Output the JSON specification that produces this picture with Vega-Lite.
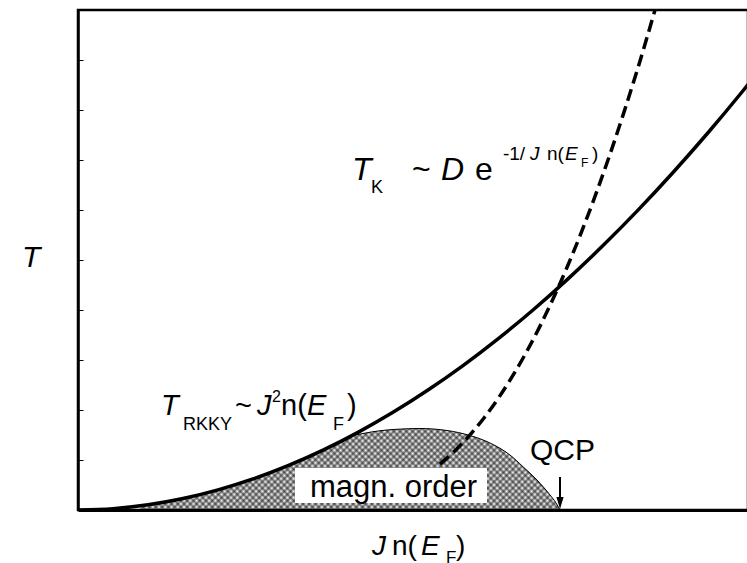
{
  "$schema": "https://vega.github.io/schema/vega-lite/v6.json",
  "autosize": "none",
  "padding": {"left": 78, "top": 10, "right": 0, "bottom": 53},
  "width": 670,
  "height": 500,
  "background": "white",
  "config": {
    "view": {"stroke": "black", "strokeWidth": 2.5},
    "text": {"font": "Liberation Sans", "align": "left", "baseline": "alphabetic", "color": "black"}
  },
  "datasets": {
    "rkky": [
      {"x": 0, "y": 0}, {"x": 0.05, "y": 0.027}, {"x": 0.1, "y": 0.104}, {"x": 0.15, "y": 0.229},
      {"x": 0.2, "y": 0.402}, {"x": 0.25, "y": 0.621}, {"x": 0.3, "y": 0.886}, {"x": 0.35, "y": 1.196},
      {"x": 0.4, "y": 1.552}, {"x": 0.45, "y": 1.953}, {"x": 0.5, "y": 2.399}, {"x": 0.55, "y": 2.888},
      {"x": 0.6, "y": 3.422}, {"x": 0.65, "y": 4.000}, {"x": 0.7, "y": 4.623}, {"x": 0.75, "y": 5.288},
      {"x": 0.8, "y": 5.997}, {"x": 0.85, "y": 6.750}, {"x": 0.9, "y": 7.545}, {"x": 0.95, "y": 8.385},
      {"x": 1.0, "y": 9.267}
    ],
    "kondo": [
      {"x": 0.517, "y": 0.918}, {"x": 0.54, "y": 1.207}, {"x": 0.56, "y": 1.502}, {"x": 0.58, "y": 1.841},
      {"x": 0.6, "y": 2.227}, {"x": 0.62, "y": 2.661}, {"x": 0.64, "y": 3.144}, {"x": 0.66, "y": 3.677},
      {"x": 0.68, "y": 4.263}, {"x": 0.7, "y": 4.899}, {"x": 0.72, "y": 5.587}, {"x": 0.74, "y": 6.326},
      {"x": 0.76, "y": 7.116}, {"x": 0.78, "y": 7.958}, {"x": 0.8, "y": 8.848}, {"x": 0.8243, "y": 10.0}
    ],
    "dome": [
      {"x": 0.0886, "y": 0.082}, {"x": 0.1171, "y": 0.142}, {"x": 0.1457, "y": 0.217}, {"x": 0.1743, "y": 0.307},
      {"x": 0.21, "y": 0.442}, {"x": 0.2457, "y": 0.600}, {"x": 0.2814, "y": 0.782}, {"x": 0.3171, "y": 0.987},
      {"x": 0.3457, "y": 1.168}, {"x": 0.3743, "y": 1.364}, {"x": 0.3886, "y": 1.467}, {"x": 0.4071, "y": 1.53},
      {"x": 0.4314, "y": 1.585}, {"x": 0.4557, "y": 1.615}, {"x": 0.4886, "y": 1.63}, {"x": 0.5271, "y": 1.59},
      {"x": 0.56, "y": 1.49}, {"x": 0.5886, "y": 1.34}, {"x": 0.6171, "y": 1.10}, {"x": 0.6357, "y": 0.866},
      {"x": 0.6557, "y": 0.60}, {"x": 0.6743, "y": 0.30}, {"x": 0.6829, "y": 0.14}, {"x": 0.6886, "y": 0.0}
    ],
    "domeEdge": [
      {"x": 0.3743, "y": 1.364}, {"x": 0.3886, "y": 1.467}, {"x": 0.4071, "y": 1.53}, {"x": 0.4314, "y": 1.585},
      {"x": 0.4557, "y": 1.615}, {"x": 0.4886, "y": 1.63}, {"x": 0.5271, "y": 1.59}, {"x": 0.56, "y": 1.49},
      {"x": 0.5886, "y": 1.34}, {"x": 0.6171, "y": 1.10}, {"x": 0.6357, "y": 0.866}, {"x": 0.6557, "y": 0.60},
      {"x": 0.6743, "y": 0.30}, {"x": 0.6829, "y": 0.14}, {"x": 0.6886, "y": 0.0}
    ],
    "box": [{"x": 0.31, "x2": 0.5843, "y": 0.14, "y2": 0.84}],
    "arrow": [{"x": 0.6886, "y": 0.66, "y2": 0.2}],
    "arrowHead": [{"x": 0.6886, "y": 0.14}],
    "italic": [
      {"x": -0.08, "y": 4.86, "t": "T", "s": 30},
      {"x": 0.1186, "y": 1.90, "t": "T", "s": 29},
      {"x": 0.2557, "y": 1.90, "t": "J", "s": 29},
      {"x": 0.3271, "y": 1.90, "t": "E", "s": 29},
      {"x": 0.3914, "y": 6.60, "t": "T", "s": 32},
      {"x": 0.5186, "y": 6.60, "t": "D", "s": 32},
      {"x": 0.6457, "y": 7.0, "t": "J", "s": 19},
      {"x": 0.6957, "y": 7.0, "t": "E", "s": 19},
      {"x": 0.42, "y": -0.9, "t": "J", "s": 28},
      {"x": 0.49, "y": -0.9, "t": "E", "s": 28}
    ],
    "upright": [
      {"x": 0.15, "y": 1.60, "t": "RKKY", "s": 18},
      {"x": 0.2243, "y": 1.90, "t": "~", "s": 29},
      {"x": 0.2771, "y": 2.16, "t": "2", "s": 16},
      {"x": 0.29, "y": 1.90, "t": "n(", "s": 29},
      {"x": 0.3643, "y": 1.60, "t": "F", "s": 18},
      {"x": 0.3843, "y": 1.90, "t": ")", "s": 29},
      {"x": 0.4186, "y": 6.34, "t": "K", "s": 18},
      {"x": 0.4771, "y": 6.60, "t": "~", "s": 32},
      {"x": 0.5671, "y": 6.60, "t": "e", "s": 32},
      {"x": 0.6071, "y": 7.0, "t": "-1/", "s": 19},
      {"x": 0.67, "y": 7.0, "t": "n(", "s": 19},
      {"x": 0.7186, "y": 6.86, "t": "F", "s": 12},
      {"x": 0.7343, "y": 7.0, "t": ")", "s": 19},
      {"x": 0.4486, "y": -0.9, "t": "n(", "s": 28},
      {"x": 0.5257, "y": -1.06, "t": "F", "s": 17},
      {"x": 0.54, "y": -0.9, "t": ")", "s": 28},
      {"x": 0.6457, "y": 1.0, "t": "QCP", "s": 30},
      {"x": 0.3314, "y": 0.26, "t": "magn. order", "s": 31}
    ]
  },
  "encoding": {
    "x": {
      "field": "x", "type": "quantitative",
      "scale": {"domain": [0, 0.95714], "nice": false, "zero": false},
      "axis": {"title": null, "labels": false, "ticks": false, "grid": false, "domainColor": "black", "domainWidth": 3}
    },
    "y": {
      "field": "y", "type": "quantitative",
      "scale": {"domain": [0, 10], "nice": false, "zero": false},
      "axis": {"title": null, "labels": false, "grid": false, "values": [1, 2, 3, 4, 5, 6, 7, 8, 9], "tickSize": -5, "tickColor": "black", "tickWidth": 1, "domainColor": "black", "domainWidth": 2.5}
    }
  },
  "layer": [
    {"data": {"name": "dome"}, "mark": {"type": "area", "interpolate": "monotone", "clip": true, "fillOpacity": 0.5,
      "fill": {"gradient": "linear", "x1": 0, "y1": 0, "x2": 1.15, "y2": 0.2218, "stops": [
        {"offset":0,"color":"#000"},{"offset":0.00625,"color":"#0000"},{"offset":0.0125,"color":"#000"},{"offset":0.01875,"color":"#0000"},{"offset":0.025,"color":"#000"},{"offset":0.03125,"color":"#0000"},{"offset":0.0375,"color":"#000"},{"offset":0.04375,"color":"#0000"},{"offset":0.05,"color":"#000"},{"offset":0.05625,"color":"#0000"},{"offset":0.0625,"color":"#000"},{"offset":0.06875,"color":"#0000"},{"offset":0.075,"color":"#000"},{"offset":0.08125,"color":"#0000"},{"offset":0.0875,"color":"#000"},{"offset":0.09375,"color":"#0000"},
        {"offset":0.1,"color":"#000"},{"offset":0.10625,"color":"#0000"},{"offset":0.1125,"color":"#000"},{"offset":0.11875,"color":"#0000"},{"offset":0.125,"color":"#000"},{"offset":0.13125,"color":"#0000"},{"offset":0.1375,"color":"#000"},{"offset":0.14375,"color":"#0000"},{"offset":0.15,"color":"#000"},{"offset":0.15625,"color":"#0000"},{"offset":0.1625,"color":"#000"},{"offset":0.16875,"color":"#0000"},{"offset":0.175,"color":"#000"},{"offset":0.18125,"color":"#0000"},{"offset":0.1875,"color":"#000"},{"offset":0.19375,"color":"#0000"},
        {"offset":0.2,"color":"#000"},{"offset":0.20625,"color":"#0000"},{"offset":0.2125,"color":"#000"},{"offset":0.21875,"color":"#0000"},{"offset":0.225,"color":"#000"},{"offset":0.23125,"color":"#0000"},{"offset":0.2375,"color":"#000"},{"offset":0.24375,"color":"#0000"},{"offset":0.25,"color":"#000"},{"offset":0.25625,"color":"#0000"},{"offset":0.2625,"color":"#000"},{"offset":0.26875,"color":"#0000"},{"offset":0.275,"color":"#000"},{"offset":0.28125,"color":"#0000"},{"offset":0.2875,"color":"#000"},{"offset":0.29375,"color":"#0000"},
        {"offset":0.3,"color":"#000"},{"offset":0.30625,"color":"#0000"},{"offset":0.3125,"color":"#000"},{"offset":0.31875,"color":"#0000"},{"offset":0.325,"color":"#000"},{"offset":0.33125,"color":"#0000"},{"offset":0.3375,"color":"#000"},{"offset":0.34375,"color":"#0000"},{"offset":0.35,"color":"#000"},{"offset":0.35625,"color":"#0000"},{"offset":0.3625,"color":"#000"},{"offset":0.36875,"color":"#0000"},{"offset":0.375,"color":"#000"},{"offset":0.38125,"color":"#0000"},{"offset":0.3875,"color":"#000"},{"offset":0.39375,"color":"#0000"},
        {"offset":0.4,"color":"#000"},{"offset":0.40625,"color":"#0000"},{"offset":0.4125,"color":"#000"},{"offset":0.41875,"color":"#0000"},{"offset":0.425,"color":"#000"},{"offset":0.43125,"color":"#0000"},{"offset":0.4375,"color":"#000"},{"offset":0.44375,"color":"#0000"},{"offset":0.45,"color":"#000"},{"offset":0.45625,"color":"#0000"},{"offset":0.4625,"color":"#000"},{"offset":0.46875,"color":"#0000"},{"offset":0.475,"color":"#000"},{"offset":0.48125,"color":"#0000"},{"offset":0.4875,"color":"#000"},{"offset":0.49375,"color":"#0000"},
        {"offset":0.5,"color":"#000"},{"offset":0.50625,"color":"#0000"},{"offset":0.5125,"color":"#000"},{"offset":0.51875,"color":"#0000"},{"offset":0.525,"color":"#000"},{"offset":0.53125,"color":"#0000"},{"offset":0.5375,"color":"#000"},{"offset":0.54375,"color":"#0000"},{"offset":0.55,"color":"#000"},{"offset":0.55625,"color":"#0000"},{"offset":0.5625,"color":"#000"},{"offset":0.56875,"color":"#0000"},{"offset":0.575,"color":"#000"},{"offset":0.58125,"color":"#0000"},{"offset":0.5875,"color":"#000"},{"offset":0.59375,"color":"#0000"},
        {"offset":0.6,"color":"#000"},{"offset":0.60625,"color":"#0000"},{"offset":0.6125,"color":"#000"},{"offset":0.61875,"color":"#0000"},{"offset":0.625,"color":"#000"},{"offset":0.63125,"color":"#0000"},{"offset":0.6375,"color":"#000"},{"offset":0.64375,"color":"#0000"},{"offset":0.65,"color":"#000"},{"offset":0.65625,"color":"#0000"},{"offset":0.6625,"color":"#000"},{"offset":0.66875,"color":"#0000"},{"offset":0.675,"color":"#000"},{"offset":0.68125,"color":"#0000"},{"offset":0.6875,"color":"#000"},{"offset":0.69375,"color":"#0000"},
        {"offset":0.7,"color":"#000"},{"offset":0.70625,"color":"#0000"},{"offset":0.7125,"color":"#000"},{"offset":0.71875,"color":"#0000"},{"offset":0.725,"color":"#000"},{"offset":0.73125,"color":"#0000"},{"offset":0.7375,"color":"#000"},{"offset":0.74375,"color":"#0000"},{"offset":0.75,"color":"#000"},{"offset":0.75625,"color":"#0000"},{"offset":0.7625,"color":"#000"},{"offset":0.76875,"color":"#0000"},{"offset":0.775,"color":"#000"},{"offset":0.78125,"color":"#0000"},{"offset":0.7875,"color":"#000"},{"offset":0.79375,"color":"#0000"},
        {"offset":0.8,"color":"#000"},{"offset":0.80625,"color":"#0000"},{"offset":0.8125,"color":"#000"},{"offset":0.81875,"color":"#0000"},{"offset":0.825,"color":"#000"},{"offset":0.83125,"color":"#0000"},{"offset":0.8375,"color":"#000"},{"offset":0.84375,"color":"#0000"},{"offset":0.85,"color":"#000"},{"offset":0.85625,"color":"#0000"},{"offset":0.8625,"color":"#000"},{"offset":0.86875,"color":"#0000"},{"offset":0.875,"color":"#000"},{"offset":0.88125,"color":"#0000"},{"offset":0.8875,"color":"#000"},{"offset":0.89375,"color":"#0000"},
        {"offset":0.9,"color":"#000"},{"offset":0.90625,"color":"#0000"},{"offset":0.9125,"color":"#000"},{"offset":0.91875,"color":"#0000"},{"offset":0.925,"color":"#000"},{"offset":0.93125,"color":"#0000"},{"offset":0.9375,"color":"#000"},{"offset":0.94375,"color":"#0000"},{"offset":0.95,"color":"#000"},{"offset":0.95625,"color":"#0000"},{"offset":0.9625,"color":"#000"},{"offset":0.96875,"color":"#0000"},{"offset":0.975,"color":"#000"},{"offset":0.98125,"color":"#0000"},{"offset":0.9875,"color":"#000"},{"offset":0.99375,"color":"#0000"},
        {"offset":1,"color":"#000"}
      ]}}},
    {"data": {"name": "dome"}, "mark": {"type": "area", "interpolate": "monotone", "clip": true, "fillOpacity": 0.5,
      "fill": {"gradient": "linear", "x1": 0, "y1": 1, "x2": 1.15, "y2": 0.7782, "stops": [
        {"offset":0,"color":"#000"},{"offset":0.00625,"color":"#0000"},{"offset":0.0125,"color":"#000"},{"offset":0.01875,"color":"#0000"},{"offset":0.025,"color":"#000"},{"offset":0.03125,"color":"#0000"},{"offset":0.0375,"color":"#000"},{"offset":0.04375,"color":"#0000"},{"offset":0.05,"color":"#000"},{"offset":0.05625,"color":"#0000"},{"offset":0.0625,"color":"#000"},{"offset":0.06875,"color":"#0000"},{"offset":0.075,"color":"#000"},{"offset":0.08125,"color":"#0000"},{"offset":0.0875,"color":"#000"},{"offset":0.09375,"color":"#0000"},
        {"offset":0.1,"color":"#000"},{"offset":0.10625,"color":"#0000"},{"offset":0.1125,"color":"#000"},{"offset":0.11875,"color":"#0000"},{"offset":0.125,"color":"#000"},{"offset":0.13125,"color":"#0000"},{"offset":0.1375,"color":"#000"},{"offset":0.14375,"color":"#0000"},{"offset":0.15,"color":"#000"},{"offset":0.15625,"color":"#0000"},{"offset":0.1625,"color":"#000"},{"offset":0.16875,"color":"#0000"},{"offset":0.175,"color":"#000"},{"offset":0.18125,"color":"#0000"},{"offset":0.1875,"color":"#000"},{"offset":0.19375,"color":"#0000"},
        {"offset":0.2,"color":"#000"},{"offset":0.20625,"color":"#0000"},{"offset":0.2125,"color":"#000"},{"offset":0.21875,"color":"#0000"},{"offset":0.225,"color":"#000"},{"offset":0.23125,"color":"#0000"},{"offset":0.2375,"color":"#000"},{"offset":0.24375,"color":"#0000"},{"offset":0.25,"color":"#000"},{"offset":0.25625,"color":"#0000"},{"offset":0.2625,"color":"#000"},{"offset":0.26875,"color":"#0000"},{"offset":0.275,"color":"#000"},{"offset":0.28125,"color":"#0000"},{"offset":0.2875,"color":"#000"},{"offset":0.29375,"color":"#0000"},
        {"offset":0.3,"color":"#000"},{"offset":0.30625,"color":"#0000"},{"offset":0.3125,"color":"#000"},{"offset":0.31875,"color":"#0000"},{"offset":0.325,"color":"#000"},{"offset":0.33125,"color":"#0000"},{"offset":0.3375,"color":"#000"},{"offset":0.34375,"color":"#0000"},{"offset":0.35,"color":"#000"},{"offset":0.35625,"color":"#0000"},{"offset":0.3625,"color":"#000"},{"offset":0.36875,"color":"#0000"},{"offset":0.375,"color":"#000"},{"offset":0.38125,"color":"#0000"},{"offset":0.3875,"color":"#000"},{"offset":0.39375,"color":"#0000"},
        {"offset":0.4,"color":"#000"},{"offset":0.40625,"color":"#0000"},{"offset":0.4125,"color":"#000"},{"offset":0.41875,"color":"#0000"},{"offset":0.425,"color":"#000"},{"offset":0.43125,"color":"#0000"},{"offset":0.4375,"color":"#000"},{"offset":0.44375,"color":"#0000"},{"offset":0.45,"color":"#000"},{"offset":0.45625,"color":"#0000"},{"offset":0.4625,"color":"#000"},{"offset":0.46875,"color":"#0000"},{"offset":0.475,"color":"#000"},{"offset":0.48125,"color":"#0000"},{"offset":0.4875,"color":"#000"},{"offset":0.49375,"color":"#0000"},
        {"offset":0.5,"color":"#000"},{"offset":0.50625,"color":"#0000"},{"offset":0.5125,"color":"#000"},{"offset":0.51875,"color":"#0000"},{"offset":0.525,"color":"#000"},{"offset":0.53125,"color":"#0000"},{"offset":0.5375,"color":"#000"},{"offset":0.54375,"color":"#0000"},{"offset":0.55,"color":"#000"},{"offset":0.55625,"color":"#0000"},{"offset":0.5625,"color":"#000"},{"offset":0.56875,"color":"#0000"},{"offset":0.575,"color":"#000"},{"offset":0.58125,"color":"#0000"},{"offset":0.5875,"color":"#000"},{"offset":0.59375,"color":"#0000"},
        {"offset":0.6,"color":"#000"},{"offset":0.60625,"color":"#0000"},{"offset":0.6125,"color":"#000"},{"offset":0.61875,"color":"#0000"},{"offset":0.625,"color":"#000"},{"offset":0.63125,"color":"#0000"},{"offset":0.6375,"color":"#000"},{"offset":0.64375,"color":"#0000"},{"offset":0.65,"color":"#000"},{"offset":0.65625,"color":"#0000"},{"offset":0.6625,"color":"#000"},{"offset":0.66875,"color":"#0000"},{"offset":0.675,"color":"#000"},{"offset":0.68125,"color":"#0000"},{"offset":0.6875,"color":"#000"},{"offset":0.69375,"color":"#0000"},
        {"offset":0.7,"color":"#000"},{"offset":0.70625,"color":"#0000"},{"offset":0.7125,"color":"#000"},{"offset":0.71875,"color":"#0000"},{"offset":0.725,"color":"#000"},{"offset":0.73125,"color":"#0000"},{"offset":0.7375,"color":"#000"},{"offset":0.74375,"color":"#0000"},{"offset":0.75,"color":"#000"},{"offset":0.75625,"color":"#0000"},{"offset":0.7625,"color":"#000"},{"offset":0.76875,"color":"#0000"},{"offset":0.775,"color":"#000"},{"offset":0.78125,"color":"#0000"},{"offset":0.7875,"color":"#000"},{"offset":0.79375,"color":"#0000"},
        {"offset":0.8,"color":"#000"},{"offset":0.80625,"color":"#0000"},{"offset":0.8125,"color":"#000"},{"offset":0.81875,"color":"#0000"},{"offset":0.825,"color":"#000"},{"offset":0.83125,"color":"#0000"},{"offset":0.8375,"color":"#000"},{"offset":0.84375,"color":"#0000"},{"offset":0.85,"color":"#000"},{"offset":0.85625,"color":"#0000"},{"offset":0.8625,"color":"#000"},{"offset":0.86875,"color":"#0000"},{"offset":0.875,"color":"#000"},{"offset":0.88125,"color":"#0000"},{"offset":0.8875,"color":"#000"},{"offset":0.89375,"color":"#0000"},
        {"offset":0.9,"color":"#000"},{"offset":0.90625,"color":"#0000"},{"offset":0.9125,"color":"#000"},{"offset":0.91875,"color":"#0000"},{"offset":0.925,"color":"#000"},{"offset":0.93125,"color":"#0000"},{"offset":0.9375,"color":"#000"},{"offset":0.94375,"color":"#0000"},{"offset":0.95,"color":"#000"},{"offset":0.95625,"color":"#0000"},{"offset":0.9625,"color":"#000"},{"offset":0.96875,"color":"#0000"},{"offset":0.975,"color":"#000"},{"offset":0.98125,"color":"#0000"},{"offset":0.9875,"color":"#000"},{"offset":0.99375,"color":"#0000"},
        {"offset":1,"color":"#000"}
      ]}}},
    {"data": {"name": "domeEdge"}, "mark": {"type": "line", "interpolate": "monotone", "stroke": "black", "strokeWidth": 1, "clip": true}},
    {"data": {"name": "box"}, "mark": {"type": "rect", "fill": "white"}, "encoding": {"x2": {"field": "x2"}, "y2": {"field": "y2"}}},
    {"data": {"name": "rkky"}, "mark": {"type": "line", "interpolate": "monotone", "stroke": "black", "strokeWidth": 3.5, "clip": true}},
    {"data": {"name": "kondo"}, "mark": {"type": "line", "interpolate": "monotone", "stroke": "black", "strokeWidth": 3.5, "strokeDash": [12, 6], "clip": true}},
    {"data": {"name": "arrow"}, "mark": {"type": "rule", "stroke": "black", "strokeWidth": 2}, "encoding": {"y2": {"field": "y2"}}},
    {"data": {"name": "arrowHead"}, "mark": {"type": "point", "shape": "M-0.6,-1L0.6,-1L0,1Z", "size": 144, "filled": true, "color": "black", "opacity": 1}},
    {"data": {"name": "italic"}, "mark": {"type": "text", "fontStyle": "italic"}, "encoding": {"text": {"field": "t"}, "size": {"field": "s", "type": "quantitative", "scale": null}}},
    {"data": {"name": "upright"}, "mark": {"type": "text"}, "encoding": {"text": {"field": "t"}, "size": {"field": "s", "type": "quantitative", "scale": null}}}
  ]
}
